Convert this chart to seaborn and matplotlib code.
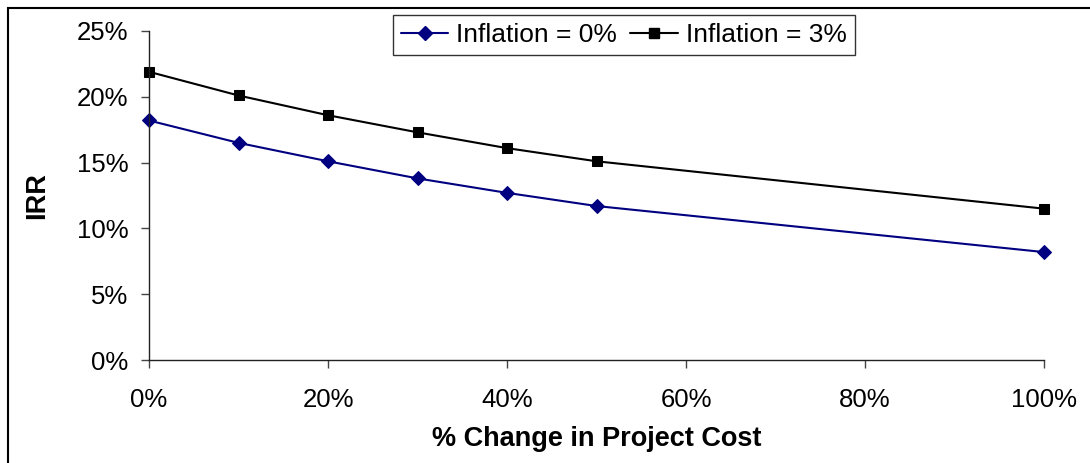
import pandas as pd
import matplotlib.pyplot as plt
import seaborn as sns
from matplotlib.patches import Rectangle
from matplotlib.lines import Line2D
from matplotlib.ticker import PercentFormatter

# Datos
cost_change = [0, 10, 20, 30, 40, 50, 100]
irr_infl_0 = [18.2, 16.5, 15.1, 13.8, 12.7, 11.7, 8.2]
irr_infl_3 = [21.9, 20.1, 18.6, 17.3, 16.1, 15.1, 11.5]
series_names = ["Inflation = 0%", "Inflation = 3%"]

df = pd.DataFrame({
    "cost": cost_change * 2,
    "irr": irr_infl_0 + irr_infl_3,
    "serie": [series_names[0]] * len(cost_change) + [series_names[1]] * len(cost_change),
})

sns.set_style("white")
plt.rcParams['font.family'] = ['Liberation Sans', 'DejaVu Sans']
plt.rcParams['text.color'] = "black"
plt.rcParams['axes.labelcolor'] = "black"
plt.rcParams['xtick.color'] = "black"
plt.rcParams['ytick.color'] = "black"

fig = plt.figure(figsize=(10.9, 4.63), dpi=100)
ax = fig.add_axes([149 / 1090, 1 - 360 / 463, (1044 - 149) / 1090, (360 - 31) / 463])

colors = {series_names[0]: "#000080", series_names[1]: "#000000"}
markers = {series_names[0]: "D", series_names[1]: "s"}
sizes = {series_names[0]: 7, series_names[1]: 6.5}

for name in series_names:
    sub = df[df["serie"] == name]
    sns.lineplot(data=sub, x="cost", y="irr", ax=ax, color=colors[name],
                 marker=markers[name], markersize=sizes[name], markeredgecolor=colors[name],
                 linewidth=1.5, label=name, legend=False, clip_on=False)

ax.set_xlim(0, 100)
ax.set_ylim(0, 25)
ax.set_xticks(range(0, 101, 20))
ax.set_yticks(range(0, 26, 5))
ax.xaxis.set_major_formatter(PercentFormatter(decimals=0))
ax.yaxis.set_major_formatter(PercentFormatter(decimals=0))
ax.tick_params(axis="both", direction="out", length=6, width=1, color="#444444",
               labelcolor="black", labelsize=18.5, left=True, bottom=True)
ax.tick_params(axis="x", pad=14)
ax.tick_params(axis="y", pad=9)

for s in ["top", "right"]:
    ax.spines[s].set_visible(False)
for s in ["left", "bottom"]:
    ax.spines[s].set_color("#222222")
    ax.spines[s].set_linewidth(1)

ax.set_xlabel("% Change in Project Cost", fontsize=19.5, fontweight="bold", labelpad=10)
ax.set_ylabel("IRR", fontsize=19.5, fontweight="bold", labelpad=19)

handles = [Line2D([], [], color=colors[n], marker=markers[n], markersize=sizes[n],
                  linewidth=1.5) for n in series_names]
leg = ax.legend(handles, series_names, loc="upper left",
                bbox_to_anchor=((393 - 149) / 895, (360 - 15) / 329),
                ncol=2, fontsize=19, frameon=True, fancybox=False, edgecolor="black",
                handlelength=1.8, handletextpad=0.3, columnspacing=0.5,
                borderpad=0.3, borderaxespad=0)
leg.get_frame().set_linewidth(1)

# Marco exterior del gráfico
fig.patches.append(Rectangle((8 / 1090, -0.1), 1.2, 1 - 8 / 463 + 0.1,
                             transform=fig.transFigure, fill=False,
                             edgecolor="black", linewidth=1.5, clip_on=False))

plt.savefig("out.png", dpi=100)
plt.close()
